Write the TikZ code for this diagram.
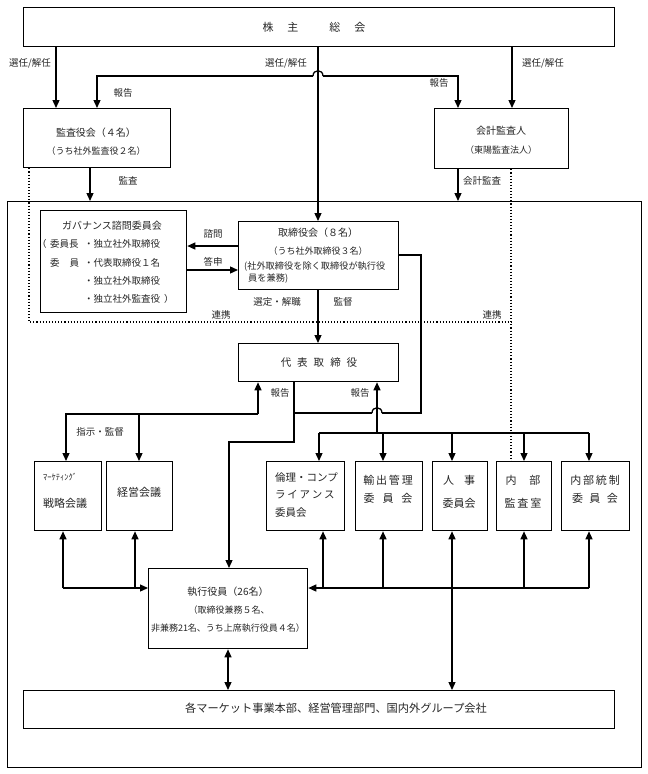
\documentclass[tikz,border=0pt]{standalone}
\usepackage{fontspec}
\setmainfont{Noto Sans CJK JP}
\usetikzlibrary{arrows.meta,calc}
\newcommand{\rbox}[5]{\node[box,minimum width={#4pt-#2pt},minimum height={#5pt-#3pt}] (#1) at (#2,#3) {};}
\begin{document}
\begin{tikzpicture}[x=1pt,y=-1pt,
  box/.style={draw, line width=1.3pt, inner sep=0pt, anchor=north west},
  ln/.style={line width=1.3pt},
  arr/.style={ln, -{Triangle[length=8pt,width=7pt]}},
  barr/.style={ln, {Triangle[length=8pt,width=7pt]}-{Triangle[length=8pt,width=7pt]}},
  dotl/.style={line width=1.1pt, dotted},
  t/.style={inner sep=0pt, text=black!85, font=\fontsize{9.5}{11}\selectfont},
  tm/.style={t, font=\fontsize{10}{12}\selectfont},
  ts/.style={t, font=\fontsize{9}{11}\selectfont},
  tl/.style={t, font=\fontsize{11}{13}\selectfont},
]
\useasboundingbox (0,0) rectangle (648,774);
\fill[white] (0,0) rectangle (648,774);

% boxes
\rbox{frame}{7}{201}{641}{767}
\rbox{sh}{23}{7}{614}{46}
\rbox{audit}{23}{108}{170}{167}
\rbox{acct}{434}{108}{568}{168}
\rbox{gov}{40}{210}{186}{312}
\rbox{board}{238}{221}{398}{289}
\rbox{rep}{238}{343}{398}{381}
\rbox{mkt}{34}{461}{101}{530}
\rbox{mgmt}{106}{461}{172}{530}
\rbox{eth}{266}{461}{344}{530}
\rbox{exp}{355}{461}{422}{530}
\rbox{hr}{432}{461}{487}{530}
\rbox{ia}{496}{461}{551}{530}
\rbox{ic}{561}{461}{629}{530}
\rbox{exec}{148}{568}{307}{648}
\rbox{biz}{23}{690}{614}{728}

% texts in boxes
\node[tl] (shT) at (314,27) {株\hspace{14pt}主\hspace{31pt}総\hspace{14pt}会};
\node[tm] (auT1) at (96,133) {監査役会（４名）};
\node[ts] (auT2) at (96,151) {（うち社外監査役２名）};
\node[tm] (acT1) at (501,131) {会計監査人};
\node[ts] (acT2) at (501,150) {（東陽監査法人）};

\node[tm] (gvT) at (112,226) {ガバナンス諮問委員会};
\node[t,anchor=west] (gv1) at (37,244) {（};
\node[t,anchor=west] (gv2) at (50,244) {委員長};
\node[t,anchor=west] (gv3) at (84,244) {・独立社外取締役};
\node[t,anchor=west] (gv4) at (50,263) {委\hspace{10pt}員};
\node[t,anchor=west] (gv5) at (84,263) {・代表取締役１名};
\node[t,anchor=west] (gv6) at (84,281) {・独立社外取締役};
\node[t,anchor=west] (gv7) at (84,299) {・独立社外監査役\hspace{4pt}）};

\node[tm] (bdT1) at (318,233) {取締役会（８名）};
\node[ts] (bdT2) at (318,251) {（うち社外取締役３名）};
\node[ts,anchor=west,font=\fontsize{9.2}{11}\selectfont] (bdT3) at (244,267) {(社外取締役を除く取締役が執行役};
\node[ts,anchor=west,font=\fontsize{9.2}{11}\selectfont] (bdT4) at (248,279) {員を兼務)};

\node[tm,font=\fontsize{10.5}{12}\selectfont] (rpT) at (319,363) {代\hspace{6pt}表\hspace{6pt}取\hspace{6pt}締\hspace{6pt}役};

\node[ts,anchor=west,font=\fontsize{8.5}{10}\selectfont] (mkT1) at (43,477) {ﾏｰｹﾃｨﾝｸﾞ};
\node[tl,anchor=west] (mkT2) at (43,503) {戦略会議};
\node[tl] (mgT) at (139,492) {経営会議};

\node[tl,anchor=west,font=\fontsize{10.5}{12}\selectfont] (etT1) at (275,478) {倫理・コンプ};
\node[tl,anchor=west,font=\fontsize{10.5}{12}\selectfont] (etT2) at (275,495) {ラ\,イ\,ア\,ン\,ス};
\node[tl,anchor=west,font=\fontsize{10.5}{12}\selectfont] (etT3) at (275,513) {委員会};
\node[tl] (exT1) at (388,480) {輸\,出\,管\,理};
\node[tl] (exT2) at (388,498) {委\hspace{8pt}員\hspace{8pt}会};
\node[tl] (hrT1) at (459,480) {人\hspace{10pt}事};
\node[tl] (hrT2) at (459,503) {委員会};
\node[tl] (iaT1) at (523,480) {内\hspace{13pt}部};
\node[tl] (iaT2) at (523,503) {監\,査\,室};
\node[tl] (icT1) at (595,480) {内\,部\,統\,制};
\node[tl] (icT2) at (595,498) {委\hspace{6.5pt}員\hspace{6.5pt}会};

\node[tm] (xeT1) at (228,592) {執行役員（26名）};
\node[ts] (xeT2) at (229,610) {（取締役兼務５名、};
\node[ts] (xeT3) at (228,628) {非兼務21名、うち上席執行役員４名）};

\node[tl,font=\fontsize{11.2}{13}\selectfont] (bzT) at (336,708) {各マーケット事業本部、経営管理部門、国内外グループ会社};

% connector labels
\node[t] (l1) at (30,63) {選任/解任};
\node[t] (l2) at (286,63) {選任/解任};
\node[t] (l3) at (543,63) {選任/解任};
\node[t] (l4) at (123,93) {報告};
\node[t] (l5) at (439,83) {報告};
\node[t] (l6) at (128,181) {監査};
\node[t] (l7) at (482,181) {会計監査};
\node[t] (l8) at (213,234) {諮問};
\node[t] (l9) at (213,262) {答申};
\node[t] (l10) at (277,302) {選定・解職};
\node[t] (l11) at (343,302) {監督};
\node[t] (l12) at (221,315) {連携};
\node[t] (l13) at (492,315) {連携};
\node[t] (l14) at (100,432) {指示・監督};
\node[t] (l15) at (280,393) {報告};
\node[t] (l16) at (360,393) {報告};

% coordinates
\coordinate (h1l) at (313,76);
\coordinate (h1r) at (323,76);
\coordinate (h2l) at (372,413);
\coordinate (h2r) at (382,413);
\coordinate (brk) at (421,255);
\coordinate (j1) at (294,413);
\coordinate (j2) at (294,442);
\coordinate (j3) at (229,442);
\coordinate (lh) at (66,414);
\coordinate (rh) at (319,433);
\coordinate (dl) at (29,322);
\coordinate (bl) at (63,588);
\coordinate (br) at (589,588);

% top connectors
\draw[arr] (sh.south -| 56,0) -- (audit.north -| 56,0);
\draw[arr] (sh.south -| 512,0) -- (acct.north -| 512,0);
\draw[arr] (sh.south -| 318,0) -- (board.north -| 318,0);
\draw[ln] (h1l) .. controls (313,69) and (323,69) .. (h1r);
\draw[arr] (h1l) -| (audit.north -| 97,0);
\draw[arr] (h1r) -| (acct.north -| 458,0);
\draw[arr] (audit.south -| 90,0) -- (frame.north -| 90,0);
\draw[arr] (acct.south -| 458,0) -- (frame.north -| 458,0);

% dotted liaison
\draw[dotl] (audit.south -| 29,0) -- (dl) -- (dl -| 511,0);
\draw[dotl] (acct.south -| 511,0) -- (ia.north -| 511,0);

% governance
\draw[arr] (board.west |- 0,246) -- (gov.east |- 0,246);
\draw[arr] (gov.east |- 0,270) -- (board.west |- 0,270);

% board to rep / exec
\draw[arr] (board.south -| 318,0) -- (rep.north -| 318,0);
\draw[ln] (board.east |- brk) -- (brk) |- (h2r);
\draw[ln] (h2r) .. controls (382,406) and (372,406) .. (h2l);
\draw[ln] (h2l) -- (j1);
\draw[arr] (rep.south -| j1) -- (j2) -- (j3) -- (exec.north -| j3);

% left report / instruction
\draw[arr] (lh -| 258,0) -- (rep.south -| 258,0);
\draw[arr] (lh -| 258,0) -- (lh) -- (mkt.north -| lh);
\draw[arr] (lh -| 139,0) -- (mgmt.north -| 139,0);

% right report / committees
\draw[arr] (rh -| 377,0) -- (rep.south -| 377,0);
\draw[ln] (rh) -- (rh -| 589,0);
\draw[arr] (rh) -- (eth.north -| rh);
\draw[arr] (rh -| 383,0) -- (exp.north -| 383,0);
\draw[arr] (rh -| 452,0) -- (hr.north -| 452,0);
\draw[arr] (rh -| 524,0) -- (ia.north -| 524,0);
\draw[arr] (rh -| 589,0) -- (ic.north -| 589,0);

% bottom bidirectional
\draw[arr] (bl) -- (mkt.south -| bl);
\draw[arr] (bl) -- (exec.west |- bl);
\draw[arr] (bl -| 135,0) -- (mgmt.south -| 135,0);
\draw[arr] (br) -- (ic.south -| br);
\draw[arr] (br) -- (exec.east |- br);
\draw[arr] (br -| 323,0) -- (eth.south -| 323,0);
\draw[arr] (br -| 383,0) -- (exp.south -| 383,0);
\draw[arr] (br -| 524,0) -- (ia.south -| 524,0);
\draw[barr] (hr.south -| 452,0) -- (biz.north -| 452,0);
\draw[barr] (exec.south -| 228,0) -- (biz.north -| 228,0);
\end{tikzpicture}
\end{document}
